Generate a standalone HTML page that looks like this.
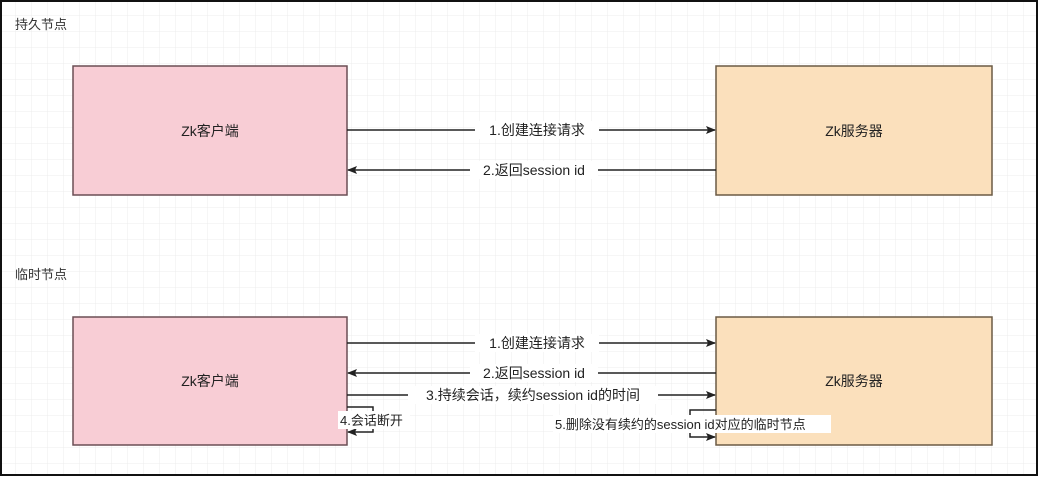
<!DOCTYPE html>
<html><head><meta charset="utf-8"><style>
body{margin:0;width:1038px;height:476px;overflow:hidden;background:#fff;}
svg text{font-family:"Liberation Sans","Noto Sans CJK SC",sans-serif;}
</style></head><body>
<svg width="1038" height="476" xmlns="http://www.w3.org/2000/svg">
<defs>
<pattern id="g" width="16" height="16" patternUnits="userSpaceOnUse"><path d="M16 0V16H0" fill="none" stroke="#ececec" stroke-width="1"/></pattern>
<marker id="a" markerWidth="10" markerHeight="8" refX="9" refY="4" orient="auto" markerUnits="userSpaceOnUse"><path d="M0,0L10,4L0,8L2,4z" fill="#222"/></marker>
</defs>
<rect width="1038" height="476" fill="url(#g)"/>
<rect x="1" y="1" width="1036" height="474" fill="none" stroke="#111" stroke-width="2"/>
<g font-size="13" fill="#333">
<text x="15" y="29">持久节点</text>
<text x="15" y="279">临时节点</text>
</g>
<g stroke="#6b4f55" stroke-width="1.5">
<rect x="73" y="66" width="274" height="129" fill="#f8cdd5"/>
<rect x="73" y="317" width="274" height="128" fill="#f8cdd5"/>
</g>
<g stroke="#6b5a45" stroke-width="1.5">
<rect x="716" y="66" width="276" height="129" fill="#fbe0bc"/>
<rect x="716" y="317" width="276" height="128" fill="#fbe0bc"/>
</g>
<g font-size="14" fill="#222" text-anchor="middle">
<text x="210" y="136">Zk客户端</text><text x="854" y="136">Zk服务器</text>
<text x="210" y="386">Zk客户端</text><text x="854" y="386">Zk服务器</text>
</g>
<g stroke="#222" stroke-width="1.5" fill="none">
<line x1="347" y1="130" x2="715" y2="130" marker-end="url(#a)"/>
<line x1="716" y1="170" x2="348" y2="170" marker-end="url(#a)"/>
<line x1="347" y1="343" x2="715" y2="343" marker-end="url(#a)"/>
<line x1="716" y1="373" x2="348" y2="373" marker-end="url(#a)"/>
<line x1="347" y1="395" x2="715" y2="395" marker-end="url(#a)"/>
<polyline points="347,407 373,407 373,432 348,432" marker-end="url(#a)"/>
<polyline points="716,410 690,410 690,437 715,437" marker-end="url(#a)"/>
</g>
<g font-size="14" fill="#222" text-anchor="middle">
<rect x="475" y="121" width="124" height="18" fill="#fff"/><text x="537" y="135">1.创建连接请求</text>
<rect x="470" y="161" width="128" height="18" fill="#fff"/><text x="534" y="175">2.返回session id</text>
<rect x="475" y="334" width="124" height="18" fill="#fff"/><text x="537" y="348">1.创建连接请求</text>
<rect x="470" y="364" width="128" height="18" fill="#fff"/><text x="534" y="378">2.返回session id</text>
<rect x="408" y="386" width="250" height="18" fill="#fff"/><text x="533" y="400">3.持续会话，续约session id的时间</text>
</g>
<g font-size="13" fill="#222">
<rect x="338" y="411" width="72" height="18" fill="#fff"/><text x="340" y="425">4.会话断开</text>
<rect x="553" y="415" width="278" height="18" fill="#fff"/><text x="555" y="429">5.删除没有续约的session id对应的临时节点</text>
</g>
</svg>
</body></html>
